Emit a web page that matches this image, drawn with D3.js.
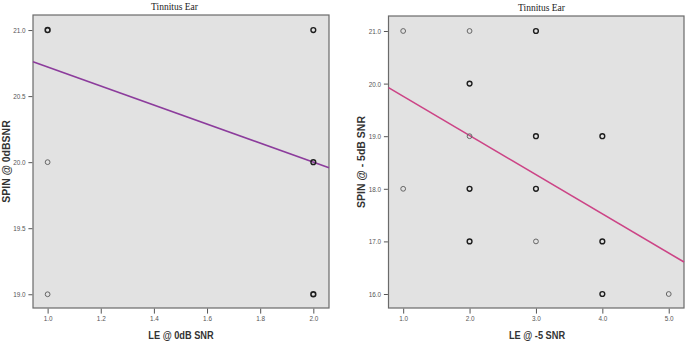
<!DOCTYPE html>
<html lang="en">
  <head>
    <meta charset="UTF-8" />
    <title>Tinnitus Ear</title>
    <style>
      body { margin: 0; background: #fff; }
      .frame { fill: #e2e2e2; stroke: #6a6a6a; stroke-width: 1.2; }
      .tick line, .domain { stroke: #555; }
      .domain { display: none; }
      .tick text { fill: #555; font-family: "Liberation Sans", Arial, sans-serif; font-size: 7.5px; }
      .title { font-family: "Liberation Serif", "Times New Roman", serif; font-size: 9.5px; fill: #222; }
      .axlabel { font-family: "Liberation Sans", Arial, sans-serif; font-size: 10.5px; font-weight: bold; fill: #333; }
      .fit { fill: none; stroke-width: 1.6; }
      .pt { fill: none; }
    </style>
  </head>
  <body>
    <div id="container"></div>
  </body>
  <script src="https://cdnjs.cloudflare.com/ajax/libs/d3/7.8.5/d3.min.js"></script>
  <script>
    // left chart: LE @ 0dB SNR vs SPIN @ 0dBSNR
    let leftX = [1, 1, 1, 2, 2, 2];
    let leftY = [21, 20, 19, 21, 20, 19];
    let leftCount = [3, 1, 1, 2, 2, 3]; // overlapping cases (darker rings)
    let leftXTicks = [1.0, 1.2, 1.4, 1.6, 1.8, 2.0];
    let leftYTicks = [19.0, 19.5, 20.0, 20.5, 21.0];
    let leftFit = [21.44, -0.72]; // intercept, slope

    // right chart: LE @ -5 SNR vs SPIN @ -5dB SNR
    let rightX = [1, 2, 3, 2, 2, 3, 4, 1, 2, 3, 2, 3, 4, 4, 5];
    let rightY = [21, 21, 21, 20, 19, 19, 19, 18, 18, 18, 17, 17, 17, 16, 16];
    let rightCount = [1, 1, 2, 2, 1, 2, 2, 1, 2, 2, 2, 1, 2, 2, 1];
    let rightXTicks = [1.0, 2.0, 3.0, 4.0, 5.0];
    let rightYTicks = [16.0, 17.0, 18.0, 19.0, 20.0, 21.0];
    let rightFit = [20.504, -0.745];

    let width = 685,
      height = 343;

    let svg = d3
      .select("#container")
      .append("svg")
      .attr("width", width)
      .attr("height", height);

    let panels = [
      {
        xs: leftX, ys: leftY, n: leftCount, xt: leftXTicks, yt: leftYTicks, fit: leftFit,
        box: [33, 15, 329, 308], xd: [0.945, 2.059], yd: [18.896, 21.114],
        title: "Tinnitus Ear", titleX: 174.5, titleY: 10,
        xlab: "LE @ 0dB SNR", xlabX: 181, ylab: "SPIN @ 0dBSNR", ylabX: 9.5,
        color: "#8c3c9c"
      },
      {
        xs: rightX, ys: rightY, n: rightCount, xt: rightXTicks, yt: rightYTicks, fit: rightFit,
        box: [388.5, 16, 684, 308], xd: [0.779, 5.23], yd: [15.734, 21.285],
        title: "Tinnitus Ear", titleX: 541.5, titleY: 11,
        xlab: "LE @ -5 SNR", xlabX: 537, ylab: "SPIN @ - 5dB SNR", ylabX: 365,
        color: "#cc4486"
      }
    ];

    panels.forEach((p) => {
      let [x0, y0, x1, y1] = p.box;
      let sx = d3.scaleLinear().domain(p.xd).range([x0, x1]);
      let sy = d3.scaleLinear().domain(p.yd).range([y1, y0]);

      svg.append("rect").attr("class", "frame")
        .attr("x", x0).attr("y", y0)
        .attr("width", x1 - x0).attr("height", y1 - y0);

      let xa = svg.append("g")
        .attr("transform", `translate(0,${y1 + 0.6})`)
        .call(d3.axisBottom(sx).tickValues(p.xt).tickFormat(d3.format(".1f")).tickSize(5).tickSizeOuter(0).tickPadding(2));
      xa.selectAll(".tick text").attr("transform", "scale(0.85,1)");

      let ya = svg.append("g")
        .attr("transform", `translate(${x0 - 0.6},0)`)
        .call(d3.axisLeft(sy).tickValues(p.yt).tickFormat(d3.format(".1f")).tickSize(4).tickSizeOuter(0).tickPadding(1));
      ya.selectAll(".tick text").attr("transform", "scale(0.85,1)").attr("dx", -3);

      // regression line across full x range
      let line = d3.line().x((d) => sx(d)).y((d) => sy(p.fit[0] + p.fit[1] * d));
      svg.append("path").attr("class", "fit")
        .attr("stroke", p.color)
        .attr("d", line(p.xd));

      svg.append("g").selectAll("circle")
        .data(p.xs.map((d, i) => ({ x: d, y: p.ys[i], n: p.n[i] })))
        .join("circle")
        .attr("class", "pt")
        .attr("cx", (d) => sx(d.x))
        .attr("cy", (d) => sy(d.y))
        .attr("r", 2.4)
        .attr("stroke", (d) => (d.n > 1 ? "#1e1e1e" : "#666"))
        .attr("stroke-width", (d) => (d.n > 2 ? 1.6 : d.n > 1 ? 1.4 : 1));

      svg.append("text").attr("class", "title")
        .attr("x", p.titleX).attr("y", p.titleY)
        .attr("text-anchor", "middle").text(p.title);

      svg.append("text").attr("class", "axlabel")
        .attr("text-anchor", "middle")
        .attr("transform", `translate(${p.xlabX},338.5) scale(0.88,1)`)
        .text(p.xlab);

      svg.append("text").attr("class", "axlabel")
        .attr("text-anchor", "middle")
        .attr("transform", `translate(${p.ylabX},${(y0 + y1) / 2}) rotate(-90)`)
        .text(p.ylab);
    });
  </script>
</html>
